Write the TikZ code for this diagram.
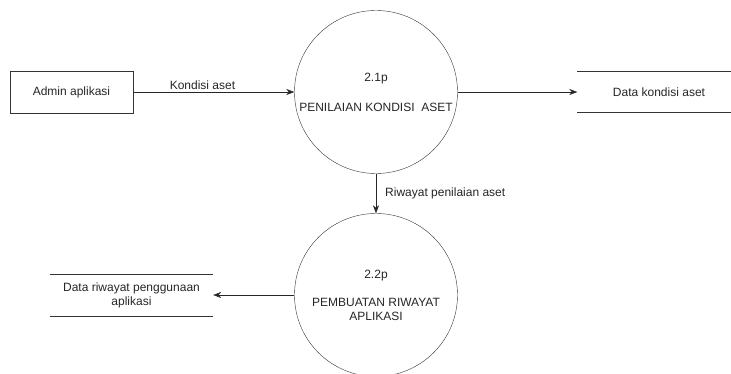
\documentclass[tikz,border=0pt]{standalone}
\usepackage{fontspec}
\setmainfont{Liberation Sans}
\usetikzlibrary{arrows.meta,positioning}

\begin{document}
\begin{tikzpicture}[
  x=1pt, y=-1pt,
  font=\fontsize{12}{14}\selectfont,
  every node/.style={text=black!85},
  entity/.style={draw=black!80, align=center, minimum width=123pt, minimum height=42pt, inner sep=0pt},
  proc/.style={draw=black!80, circle, align=center, minimum size=163pt, inner sep=0pt},
  store/.style={align=center, minimum width=163pt, minimum height=41pt, inner sep=0pt},
  arr/.style={-{Stealth[length=8pt,width=6pt]}, draw=black!85},
  lbl/.style={inner sep=2pt}
]
\useasboundingbox (0,0) rectangle (731,374);
\node[entity] (admin) at (71.5,92) {Admin aplikasi};
\node[proc]   (p1) at (376,92) {2.1p\\[16pt]PENILAIAN KONDISI~~ASET};
\node[store]  (ds1) at (659,92) {Data kondisi aset};
\node[proc]   (p2) at (376,295) {2.2p\\[14pt]PEMBUATAN RIWAYAT\\APLIKASI};
\node[store]  (ds2) at (131.5,295) {Data riwayat penggunaan\\aplikasi};
% data store lines
\draw[black!80] (ds1.north west) -- (ds1.north east);
\draw[black!80] (ds1.south west) -- (ds1.south east);
\draw[black!80] (ds2.north west) -- (ds2.north east);
\draw[black!80] (ds2.south west) -- (ds2.south east);
% flows
\draw[arr] (admin.east) -- node[lbl,above,pos=0.43]{Kondisi aset} (p1.west);
\draw[arr] (p1.east) -- (ds1.west);
\draw[arr] (p1.south) -- node[lbl,right=7pt]{Riwayat penilaian aset} (p2.north);
\draw[arr] (p2.west) -- (ds2.east);
\end{tikzpicture}
\end{document}
